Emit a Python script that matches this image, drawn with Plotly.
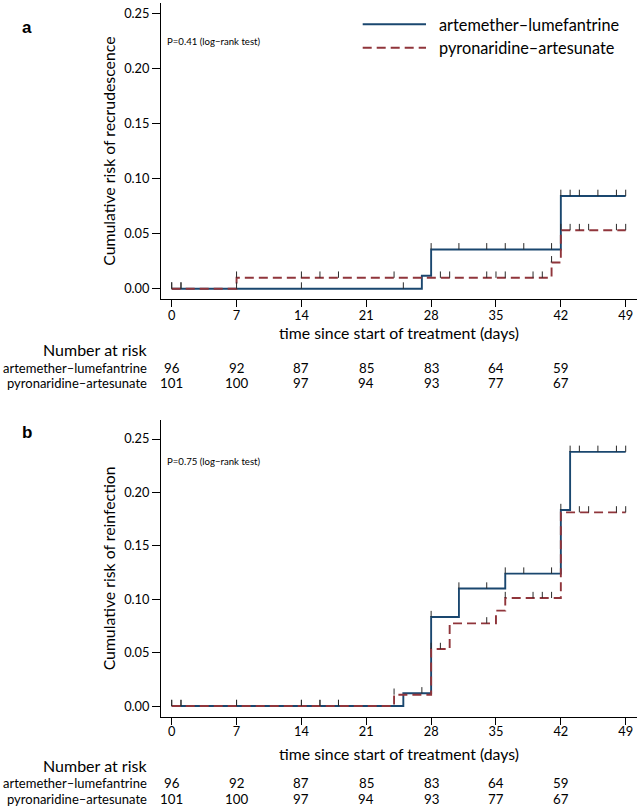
import plotly.graph_objects as go

# ---------------- data ----------------
day_ticks = [0, 7, 14, 21, 28, 35, 42, 49]
y_ticks = [0.0, 0.05, 0.10, 0.15, 0.20, 0.25]
end_day = 49

group_names = ["artemether–lumefantrine", "pyronaridine–artesunate"]

risk_days = [0, 7, 14, 21, 28, 35, 42]
al_at_risk = [96, 92, 87, 85, 83, 64, 59]
pa_at_risk = [101, 100, 97, 94, 93, 77, 67]

# panel a: recrudescence
a_al_times = [0, 27, 28, 42]
a_al_risk = [0.0, 0.0118, 0.0357, 0.0843]
a_pa_times = [0, 7, 41, 42]
a_pa_risk = [0.0, 0.0099, 0.0239, 0.0532]
a_al_censor = [0, 1, 7, 14, 25, 28, 31, 34, 36, 38, 41, 42, 43, 44, 46, 48, 49]
a_pa_censor = [0, 1, 7, 14, 16, 18, 24, 29, 30, 34, 35, 36, 39, 40, 41, 42, 43, 44, 45, 48, 49]
a_pvalue = "P=0.41 (log−rank test)"
a_ytitle = "Cumulative risk of recrudescence"

# panel b: reinfection
b_al_times = [0, 25, 28, 31, 36, 42, 43]
b_al_risk = [0.0, 0.0119, 0.0833, 0.110, 0.124, 0.1835, 0.238]
b_pa_times = [0, 24, 28, 30, 35, 36, 42]
b_pa_risk = [0.0, 0.0106, 0.0534, 0.0774, 0.0893, 0.1011, 0.1813]
b_al_censor = [0, 1, 7, 14, 16, 18, 27, 28, 31, 34, 36, 38, 41, 42, 43, 44, 46, 48, 49]
b_pa_censor = [0, 1, 7, 14, 16, 18, 24, 28, 29, 34, 36, 39, 40, 41, 44, 45, 48, 49]
b_pvalue = "P=0.75 (log−rank test)"
b_ytitle = "Cumulative risk of reinfection"

xtitle = "time since start of treatment (days)"

# ---------------- style ----------------
W, H = 638, 810
ML, MR = 161, 1
PW = W - ML - MR
BLUE = "#1a476f"
RED = "#90353b"
TICKC = "#2a2a2a"
FONT = "Lato"
TICK_H = 0.0058


def px_x(px):
    return (px - ML) / PW


def px_y(py):
    return (H - py) / H


def level_at(times, risks, t):
    v = risks[0]
    for tt, rr in zip(times, risks):
        if tt <= t:
            v = rr
    return v


def step_xy(times, risks):
    return list(times) + [end_day], list(risks) + [risks[-1]]


def censor_xy(times, risks, cens):
    xs, ys = [], []
    for t in cens:
        v = level_at(times, risks, t)
        xs += [t, t, None]
        ys += [v, v + TICK_H, None]
    return xs, ys


fig = go.Figure()

panels = [
    ("x", "y", a_al_times, a_al_risk, a_pa_times, a_pa_risk, a_al_censor, a_pa_censor),
    ("x2", "y2", b_al_times, b_al_risk, b_pa_times, b_pa_risk, b_al_censor, b_pa_censor),
]
for xa, ya, alt, alr, pat, par, alc, pac in panels:
    x, y = step_xy(alt, alr)
    fig.add_trace(go.Scatter(x=x, y=y, mode="lines", line=dict(shape="hv", color=BLUE, width=1.9),
                             name=group_names[0], xaxis=xa, yaxis=ya, showlegend=False,
                             hoverinfo="skip"))
    x, y = step_xy(pat, par)
    fig.add_trace(go.Scatter(x=x, y=y, mode="lines",
                             line=dict(shape="hv", color=RED, width=1.9, dash="9px,5px"),
                             name=group_names[1], xaxis=xa, yaxis=ya, showlegend=False,
                             hoverinfo="skip"))
    x, y = censor_xy(alt, alr, alc)
    fig.add_trace(go.Scatter(x=x, y=y, mode="lines", line=dict(color=TICKC, width=1),
                             xaxis=xa, yaxis=ya, showlegend=False, hoverinfo="skip"))
    x, y = censor_xy(pat, par, pac)
    fig.add_trace(go.Scatter(x=x, y=y, mode="lines", line=dict(color=TICKC, width=1),
                             xaxis=xa, yaxis=ya, showlegend=False, hoverinfo="skip"))

axis_common = dict(showline=True, linecolor="black", linewidth=1, ticks="outside",
                   tickcolor="black", tickwidth=1, showgrid=False,
                   zeroline=False, tickfont=dict(family=FONT, size=12.8, color="black"))

x_range = [-1.155, 50.22]
TFONT = dict(family=FONT, size=15.8)
fig.update_layout(
    width=W, height=H,
    margin=dict(l=ML, r=MR, t=0, b=0, pad=0),
    paper_bgcolor="white", plot_bgcolor="white",
    font=dict(family=FONT, color="black"),
    showlegend=False,
    xaxis=dict(domain=[0, 1], anchor="y", range=x_range, tickvals=day_ticks, ticklen=7,
               ticklabelstandoff=-3,
               title=dict(text=xtitle, font=TFONT, standoff=2),
               **axis_common),
    yaxis=dict(domain=[px_y(299.3), px_y(3)], anchor="x", range=[-0.00965, 0.26],
               tickvals=y_ticks, tickformat=".2f", ticklen=8,
               title=dict(text=a_ytitle, font=TFONT, standoff=4),
               **axis_common),
    xaxis2=dict(domain=[0, 1], anchor="y2", range=x_range, tickvals=day_ticks, ticklen=7,
                ticklabelstandoff=-4,
                title=dict(text=xtitle, font=TFONT, standoff=10),
                **axis_common),
    yaxis2=dict(domain=[px_y(716.7), px_y(420)], anchor="x2", range=[-0.0100, 0.2678],
                tickvals=y_ticks, tickformat=".2f", ticklen=8,
                title=dict(text=b_ytitle, font=TFONT, standoff=4),
                **axis_common),
)

ann = []
# panel letters
for letter, yy in [("a", 27.7), ("b", 432)]:
    ann.append(dict(text="<b>%s</b>" % letter, x=px_x(20), y=px_y(yy), xref="paper", yref="paper",
                    xanchor="left", yanchor="middle", showarrow=False,
                    font=dict(family="Liberation Sans", size=17, color="black")))
# p values
for txt, yy in [(a_pvalue, 41.7), (b_pvalue, 461.7)]:
    ann.append(dict(text=txt, x=px_x(165), y=px_y(yy), xref="paper", yref="paper",
                    xanchor="left", yanchor="middle", showarrow=False,
                    font=dict(family=FONT, size=9.6, color="black")))

# number at risk tables
for xa, y_head, y_r1, y_r2 in [("x", 349, 367.7, 383.2), ("x2", 765.5, 783.2, 799)]:
    ann.append(dict(text="Number at risk", x=px_x(148.5), y=px_y(y_head), xref="paper",
                    yref="paper", xanchor="right", yanchor="middle", showarrow=False,
                    font=dict(family=FONT, size=16.0, color="black")))
    for name, counts, yy in [(group_names[0], al_at_risk, y_r1), (group_names[1], pa_at_risk, y_r2)]:
        ann.append(dict(text=name, x=px_x(148.5), y=px_y(yy), xref="paper", yref="paper",
                        xanchor="right", yanchor="middle", showarrow=False,
                        font=dict(family=FONT, size=13.0, color="black")))
        for d, c in zip(risk_days, counts):
            ann.append(dict(text=str(c), x=d, y=px_y(yy), xref=xa, yref="paper",
                            xanchor="center", yanchor="middle", showarrow=False,
                            font=dict(family=FONT, size=13.3, color="black")))

# legend (drawn manually)
shapes = []
for name, col, dash, yy in [(group_names[0], BLUE, "solid", 24.3), (group_names[1], RED, "9px,5px", 47.7)]:
    shapes.append(dict(type="line", xref="paper", yref="paper", x0=px_x(362.7), x1=px_x(426),
                       y0=px_y(yy), y1=px_y(yy), line=dict(color=col, width=1.9, dash=dash)))
    ann.append(dict(text=name, x=px_x(436.5), y=px_y(yy), xref="paper", yref="paper",
                    xanchor="left", yanchor="middle", showarrow=False,
                    font=dict(family=FONT, size=16.3, color="black")))

fig.update_layout(annotations=ann, shapes=shapes)
fig.write_html("out.html", config={"displayModeBar": False},
               post_script="document.body.style.margin='0';document.body.style.padding='0';")
